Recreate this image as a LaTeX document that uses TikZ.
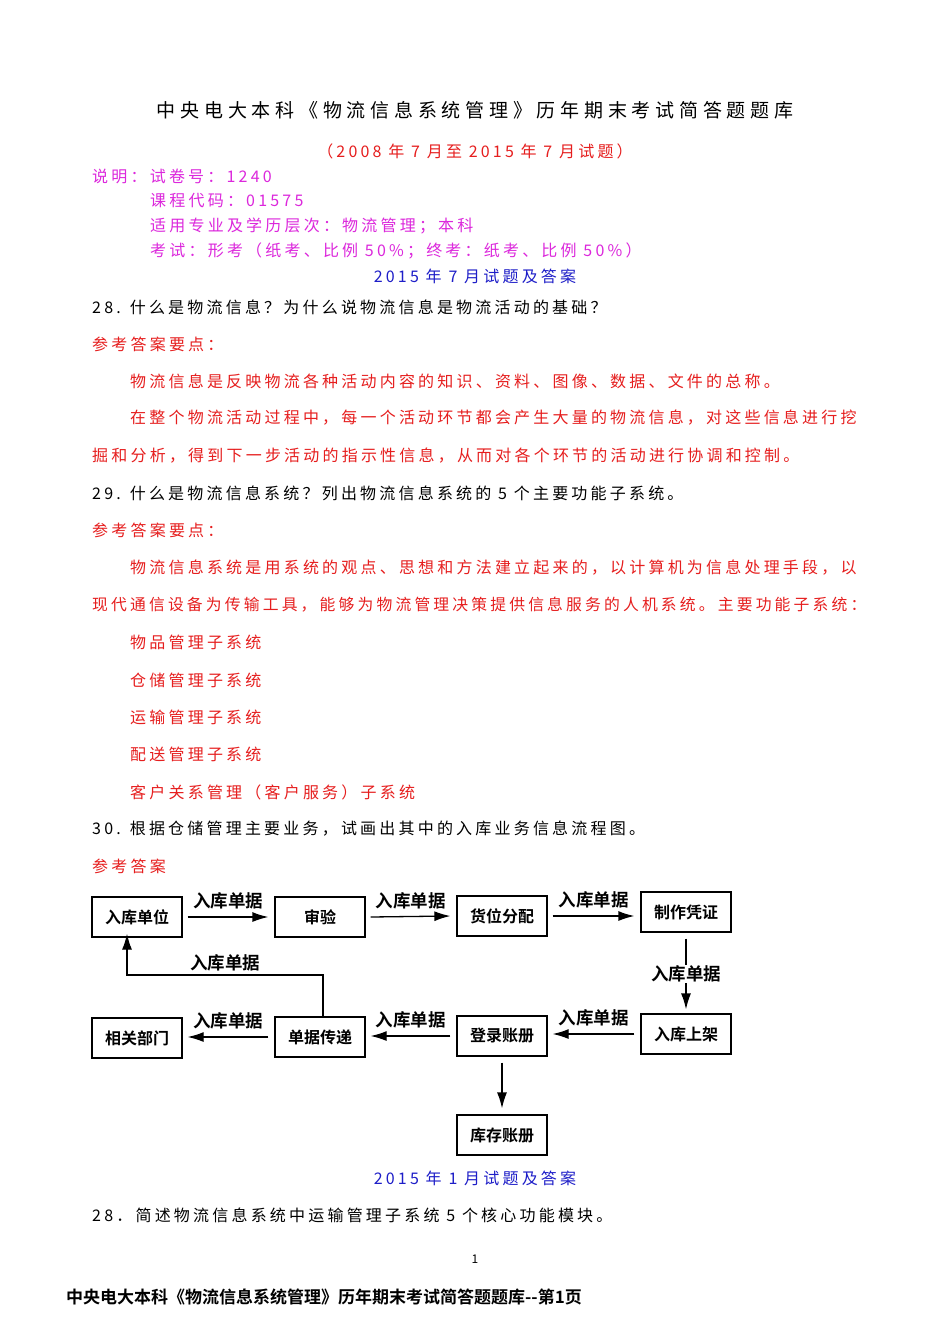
\documentclass[tikz,border=0pt]{standalone}
\usepackage{fontspec}
\setmainfont{Noto Sans CJK SC}
\newfontfamily\bodyf{Noto Sans CJK SC}[LetterSpace=20]
\newfontfamily\titlef{Noto Sans CJK SC}[LetterSpace=25]
\newfontfamily\boldf{Noto Sans CJK SC Bold}
\usetikzlibrary{arrows.meta}
\definecolor{myred}{RGB}{230,30,30}
\definecolor{mymag}{RGB}{220,40,220}
\definecolor{myblue}{RGB}{30,30,200}
\begin{document}
\begin{tikzpicture}[x=1pt,y=-1pt,
  txt/.style={anchor=west,inner sep=0pt,font=\fontsize{16}{18}\bodyf},
  ctxt/.style={inner sep=0pt,font=\fontsize{16}{18}\bodyf},
  box/.style={draw,line width=1.3pt,minimum width=90pt,minimum height=40pt,inner sep=0pt,font=\fontsize{16}{18}\boldf},
  lab/.style={inner sep=1pt,font=\fontsize{17.5}{19}\boldf},
  arr/.style={line width=1.3pt,-{Latex[length=16pt,width=10pt]}}]
\useasboundingbox[fill=white] (0,0) rectangle (950,1344);
\node[inner sep=0pt,font=\fontsize{19}{22}\titlef] (t) at (475,110) {中央电大本科《物流信息系统管理》历年期末考试简答题题库};
\node[ctxt,text=myred] (st) at (475,151) {（2008 年 7 月至 2015 年 7 月试题）};
\node[txt,text=mymag] (m1) at (92,176) {说明：试卷号：1240};
\node[txt,text=mymag] (m2) at (150,201) {课程代码：01575};
\node[txt,text=mymag] (m3) at (150,226) {适用专业及学历层次：物流管理；本科};
\node[txt,text=mymag] (m4) at (150,251) {考试：形考（纸考、比例 50\%；终考：纸考、比例 50\%）};
\node[ctxt,text=myblue] (y1) at (475,276) {2015 年 7 月试题及答案};
\node[txt] (q28) at (92,307) {28. 什么是物流信息？为什么说物流信息是物流活动的基础？};
\node[txt,text=myred] (a28) at (92,344) {参考答案要点：};
\node[txt,text=myred] (a28a) at (130,381) {物流信息是反映物流各种活动内容的知识、资料、图像、数据、文件的总称。};
\node[txt,text=myred] (a28b) at (130,418) {在整个物流活动过程中，每一个活动环节都会产生大量的物流信息，对这些信息进行挖};
\node[txt,text=myred] (a28c) at (92,456) {掘和分析，得到下一步活动的指示性信息，从而对各个环节的活动进行协调和控制。};
\node[txt] (q29) at (92,493) {29. 什么是物流信息系统？列出物流信息系统的 5 个主要功能子系统。};
\node[txt,text=myred] (a29) at (92,530) {参考答案要点：};
\node[txt,text=myred] (a29a) at (130,568) {物流信息系统是用系统的观点、思想和方法建立起来的，以计算机为信息处理手段，以};
\node[txt,text=myred,font=\fontsize{15.8}{18}\bodyf] (a29b) at (92,605) {现代通信设备为传输工具，能够为物流管理决策提供信息服务的人机系统。主要功能子系统：};
\node[txt,text=myred] (s1) at (130,642) {物品管理子系统};
\node[txt,text=myred] (s2) at (130,680) {仓储管理子系统};
\node[txt,text=myred] (s3) at (130,717) {运输管理子系统};
\node[txt,text=myred] (s4) at (130,754) {配送管理子系统};
\node[txt,text=myred] (s5) at (130,792) {客户关系管理（客户服务）子系统};
\node[txt] (q30) at (92,829) {30. 根据仓储管理主要业务，试画出其中的入库业务信息流程图。};
\node[txt,text=myred] (a30) at (92,866) {参考答案};
% flowchart
\node[box] (rkdw) at (137,917) {入库单位};
\node[box] (sy) at (320,917) {审验};
\node[box] (hwfp) at (502,916) {货位分配};
\node[box] (zzpz) at (686,912) {制作凭证};
\node[box] (rksj) at (686,1034) {入库上架};
\node[box] (dlzc) at (502,1036) {登录账册};
\node[box] (djcd) at (320,1037) {单据传递};
\node[box] (xgbm) at (137,1038) {相关部门};
\node[box] (kczc) at (502,1135) {库存账册};
\draw[arr] ([xshift=5pt]rkdw.east) -- node[lab,above=6pt]{入库单据} ([xshift=-6pt]sy.west);
\draw[arr] ([xshift=5pt]sy.east) -- node[lab,above=6pt]{入库单据} ([xshift=-6pt]hwfp.west);
\draw[arr] ([xshift=5pt]hwfp.east) -- node[lab,above=6pt]{入库单据} ([xshift=-6pt]hwfp.east-|zzpz.west);
\draw[arr] ([yshift=-6pt]zzpz.south) -- node[lab,fill=white]{入库单据} ([yshift=4pt]rksj.north);
\draw[arr] ([xshift=-6pt]rksj.west) -- node[lab,above=6pt]{入库单据} ([xshift=5pt]rksj.west-|dlzc.east);
\draw[arr] ([xshift=-6pt]dlzc.west) -- node[lab,above=6pt]{入库单据} ([xshift=5pt]dlzc.west-|djcd.east);
\draw[arr] ([xshift=-6pt]djcd.west) -- node[lab,above=6pt]{入库单据} ([xshift=5pt]djcd.west-|xgbm.east);
\draw[arr] ([yshift=-6pt]dlzc.south) -- ([yshift=6pt]kczc.north);
\coordinate (c1) at (323,975);
\coordinate (c2) at (127,975);
\draw[arr] (djcd.north-|c1) -- (c1) -- node[lab,above=2pt]{入库单据} (c2) -- ([yshift=4pt]rkdw.south-|c2);
\node[ctxt,text=myblue] (y2) at (475,1178) {2015 年 1 月试题及答案};
\node[txt] (q28b) at (92,1215) {28．简述物流信息系统中运输管理子系统 5 个核心功能模块。};
\node[inner sep=0pt,font=\fontsize{12}{14}\selectfont] (pg) at (475,1259) {1};
\node[anchor=west,inner sep=0pt,font=\fontsize{17}{20}\boldf] (ft) at (66,1297) {中央电大本科《物流信息系统管理》历年期末考试简答题题库--第1页};
\end{tikzpicture}
\end{document}
